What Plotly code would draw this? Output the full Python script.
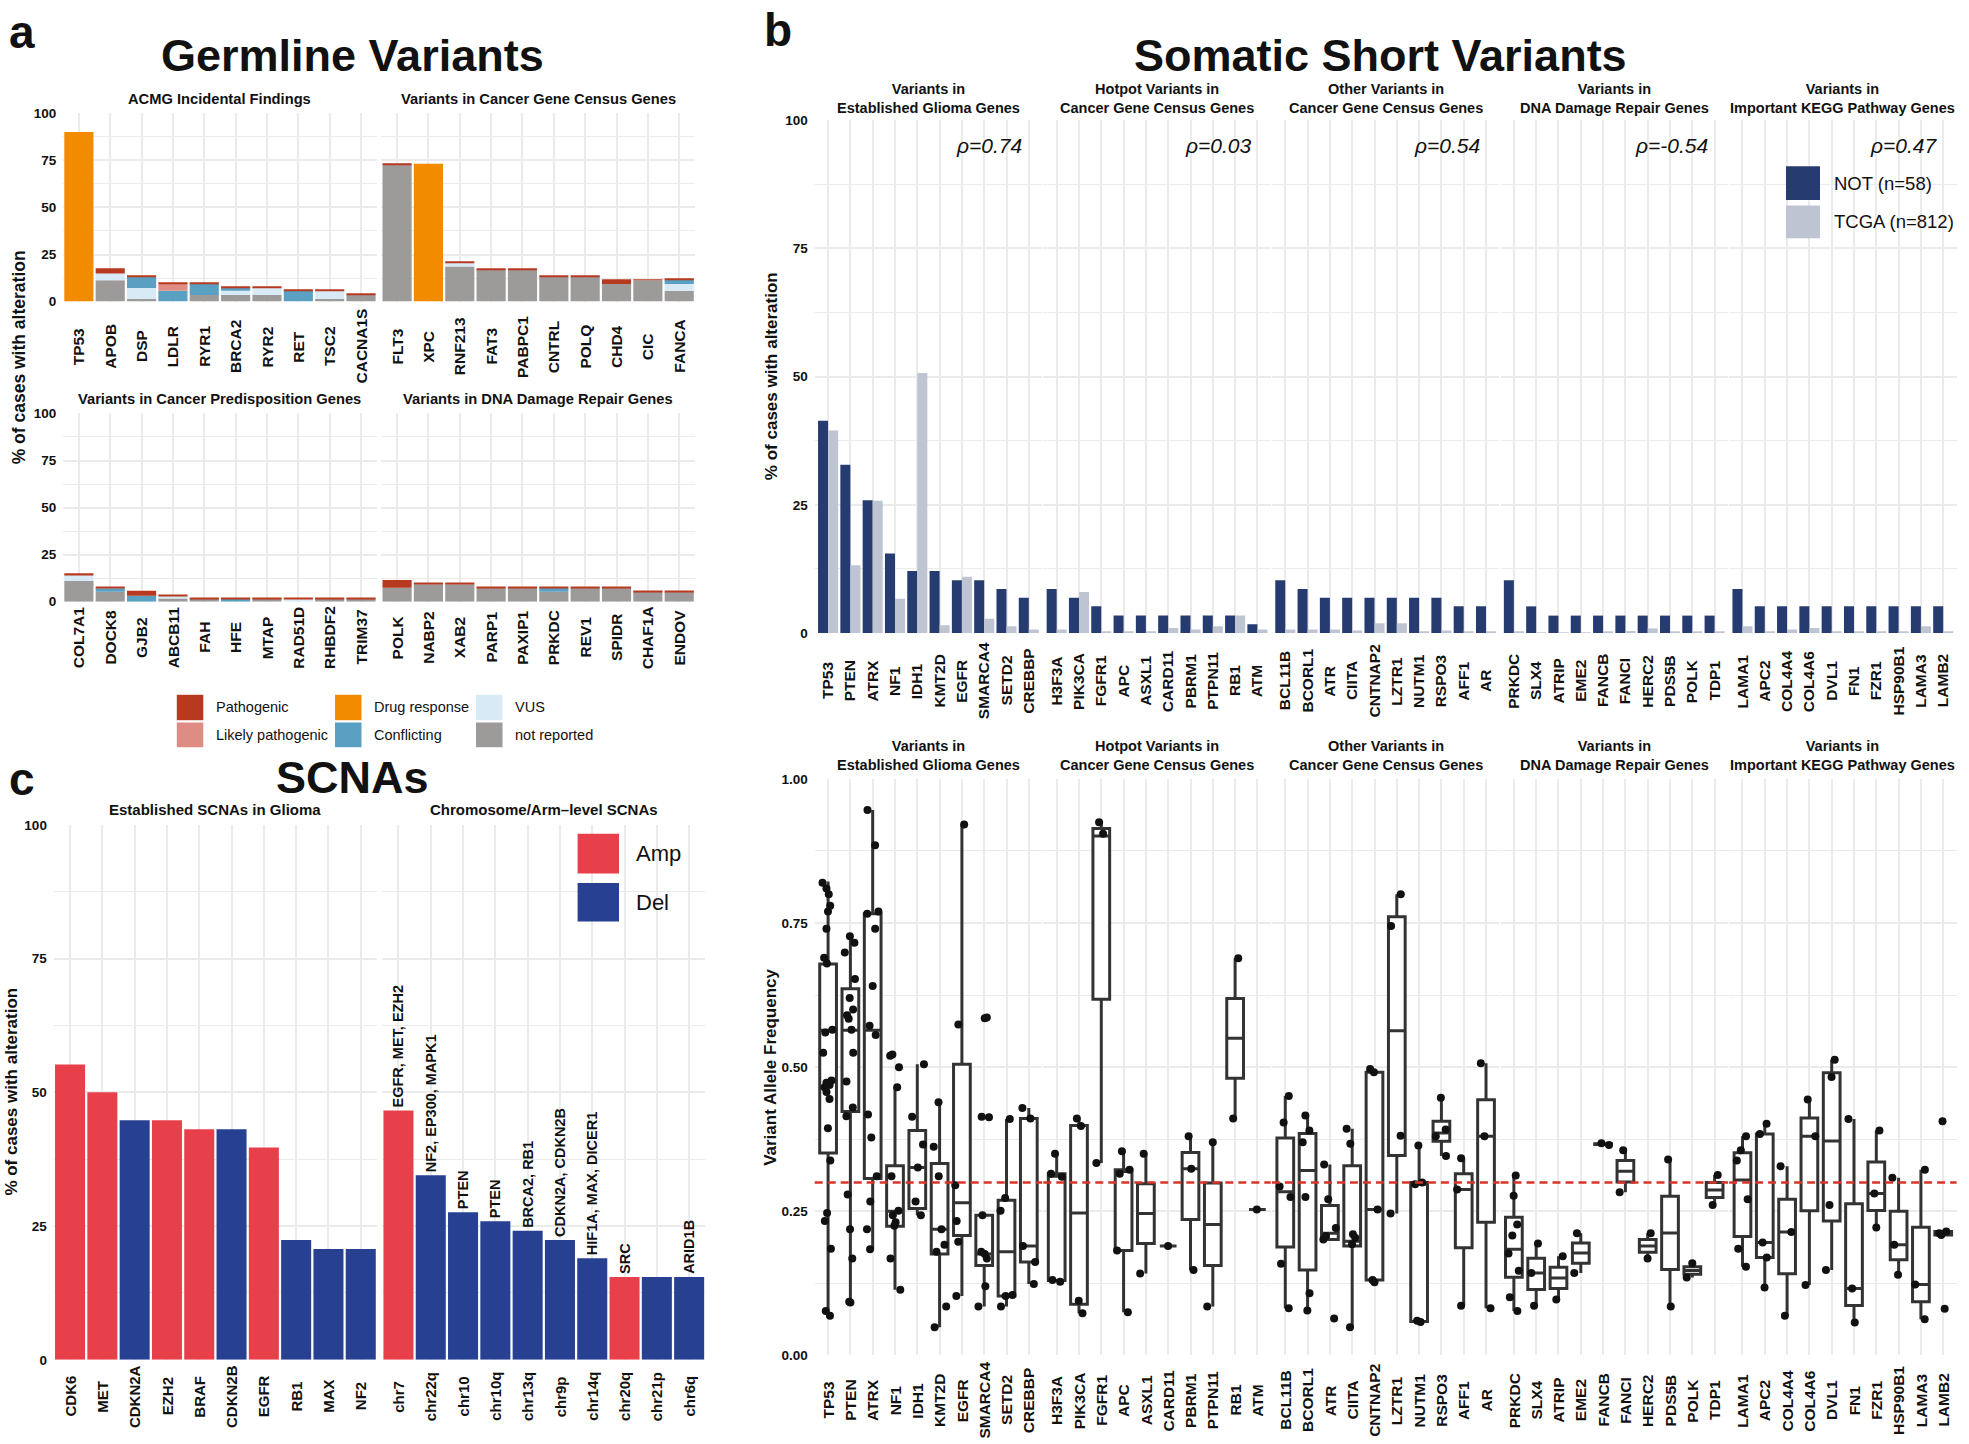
import plotly.graph_objects as go

W, H = 1969, 1444
FONT = "Liberation Sans, Arial, Helvetica, sans-serif"
GRID = "#EBEBEB"
INK = "#111111"

# ---------------- Panel a : germline variants (% of cases) ----------------
a_titles = ["ACMG Incidental Findings", "Variants in Cancer Gene Census Genes",
            "Variants in Cancer Predisposition Genes", "Variants in DNA Damage Repair Genes"]
a_classes = ["not reported", "VUS", "Conflicting", "Drug response", "Likely pathogenic", "Pathogenic"]
a_class_colors = ["#9D9A9A", "#D7EAF6", "#5AA0C3", "#F28B00", "#DF8C85", "#B7391F"]

a1_genes = ["TP53", "APOB", "DSP", "LDLR", "RYR1", "BRCA2", "RYR2", "RET", "TSC2", "CACNA1S"]
a1_not_reported = [0, 11.4, 1.4, 0, 3.5, 3.5, 3.5, 0, 1.4, 3.5]
a1_vus = [0, 3.5, 5.8, 0, 0, 2.3, 4.0, 0, 4.4, 0]
a1_conflicting = [0, 0, 5.8, 5.8, 6.1, 1.7, 0, 5.8, 0, 0]
a1_drug = [90.0, 0, 0, 0, 0, 0, 0, 0, 0, 0]
a1_likely = [0, 0, 0, 3.8, 0, 0, 0, 0, 0, 0]
a1_pathogenic = [0, 2.8, 0.5, 0.4, 0.4, 0.5, 0.5, 0.5, 0.5, 0.5]

a2_genes = ["FLT3", "XPC", "RNF213", "FAT3", "PABPC1", "CNTRL", "POLQ", "CHD4", "CIC", "FANCA"]
a2_not_reported = [72.7, 0, 18.7, 17.2, 17.2, 13.1, 13.1, 9.3, 11.4, 5.8]
a2_vus = [0, 0, 2.0, 0, 0, 0, 0, 0, 0, 3.5]
a2_conflicting = [0, 0, 0, 0, 0, 0, 0, 0, 0, 2.4]
a2_drug = [0, 73.2, 0, 0, 0, 0, 0, 0, 0, 0]
a2_likely = [0, 0, 0, 0, 0, 0, 0, 0, 0, 0]
a2_pathogenic = [0.6, 0, 0.6, 0.5, 0.5, 0.5, 0.5, 2.6, 0.5, 0.5]

a3_genes = ["COL7A1", "DOCK8", "GJB2", "ABCB11", "FAH", "HFE", "MTAP", "RAD51D", "RHBDF2", "TRIM37"]
a3_not_reported = [11.0, 5.3, 0, 1.75, 1.75, 0, 1.75, 0, 1.75, 1.75]
a3_vus = [3.5, 0, 0, 1.45, 0, 0, 0, 1.75, 0, 0]
a3_conflicting = [0, 1.9, 3.2, 0, 0, 1.75, 0, 0, 0, 0]
a3_drug = [0, 0, 0, 0, 0, 0, 0, 0, 0, 0]
a3_likely = [0, 0, 0, 0, 0, 0, 0, 0, 0, 0]
a3_pathogenic = [0.6, 0.5, 2.6, 0.5, 0.5, 0.5, 0.5, 0.5, 0.5, 0.5]

a4_genes = ["POLK", "NABP2", "XAB2", "PARP1", "PAXIP1", "PRKDC", "REV1", "SPIDR", "CHAF1A", "ENDOV"]
a4_not_reported = [7.5, 9.3, 9.3, 7.5, 7.5, 5.3, 7.5, 7.5, 5.4, 5.4]
a4_vus = [0, 0, 0, 0, 0, 0, 0, 0, 0, 0]
a4_conflicting = [0, 0, 0, 0, 0, 2.2, 0, 0, 0, 0]
a4_drug = [0, 0, 0, 0, 0, 0, 0, 0, 0, 0]
a4_likely = [0, 0, 0, 0, 0, 0, 0, 0, 0, 0]
a4_pathogenic = [4.1, 0.5, 0.5, 0.5, 0.5, 0.5, 0.5, 0.5, 0.5, 0.5]

# ---------------- Panel c : SCNAs ----------------
c_titles = ["Established SCNAs in Glioma", "Chromosome/Arm\u2013level SCNAs"]
c_types = ["Amp", "Del"]
c_type_colors = ["#E8404B", "#284091"]
c1_genes = ["CDK6", "MET", "CDKN2A", "EZH2", "BRAF", "CDKN2B", "EGFR", "RB1", "MAX", "NF2"]
c1_pct = [55.2, 50.0, 44.8, 44.8, 43.1, 43.1, 39.7, 22.4, 20.7, 20.7]
c1_type = ["Amp", "Amp", "Del", "Amp", "Amp", "Del", "Amp", "Del", "Del", "Del"]
c2_regions = ["chr7", "chr22q", "chr10", "chr10q", "chr13q", "chr9p", "chr14q", "chr20q", "chr21p", "chr6q"]
c2_pct = [46.6, 34.5, 27.6, 25.9, 24.1, 22.4, 19.0, 15.5, 15.5, 15.5]
c2_type = ["Amp", "Del", "Del", "Del", "Del", "Del", "Del", "Amp", "Del", "Del"]
c2_genes = ["EGFR, MET, EZH2", "NF2, EP300, MAPK1", "PTEN", "PTEN", "BRCA2, RB1",
            "CDKN2A, CDKN2B", "HIF1A, MAX, DICER1", "SRC", "", "ARID1B"]

# ---------------- Panel b : somatic short variants ----------------
b_titles = ["Variants in<br>Established Glioma Genes", "Hotpot Variants in<br>Cancer Gene Census Genes",
            "Other Variants in<br>Cancer Gene Census Genes", "Variants in<br>DNA Damage Repair Genes",
            "Variants in<br>Important KEGG Pathway Genes"]
b_rho = ["\u03c1=0.74", "\u03c1=0.03", "\u03c1=0.54", "\u03c1=-0.54", "\u03c1=0.47"]
b_cohorts = ["NOT (n=58)", "TCGA (n=812)"]
b_cohort_colors = ["#263C70", "#BEC4D2"]

b1_genes = ["TP53", "PTEN", "ATRX", "NF1", "IDH1", "KMT2D", "EGFR", "SMARCA4", "SETD2", "CREBBP"]
b1_not = [41.4, 32.8, 25.9, 15.5, 12.1, 12.1, 10.3, 10.3, 8.6, 6.9]
b1_tcga = [39.5, 13.2, 25.8, 6.7, 50.7, 1.5, 11.0, 2.8, 1.3, 0.7]
b2_genes = ["H3F3A", "PIK3CA", "FGFR1", "APC", "ASXL1", "CARD11", "PBRM1", "PTPN11", "RB1", "ATM"]
b2_not = [8.6, 6.9, 5.2, 3.4, 3.4, 3.4, 3.4, 3.4, 3.4, 1.7]
b2_tcga = [0.7, 8.0, 0.25, 0.25, 0.25, 1.0, 0.7, 1.3, 3.4, 0.7]
b3_genes = ["BCL11B", "BCORL1", "ATR", "CIITA", "CNTNAP2", "LZTR1", "NUTM1", "RSPO3", "AFF1", "AR"]
b3_not = [10.3, 8.6, 6.9, 6.9, 6.9, 6.9, 6.9, 6.9, 5.2, 5.2]
b3_tcga = [0.7, 0.7, 0.7, 0.5, 1.9, 1.9, 0.2, 0.5, 0.2, 0.2]
b4_genes = ["PRKDC", "SLX4", "ATRIP", "EME2", "FANCB", "FANCI", "HERC2", "PDS5B", "POLK", "TDP1"]
b4_not = [10.3, 5.2, 3.4, 3.4, 3.4, 3.4, 3.4, 3.4, 3.4, 3.4]
b4_tcga = [0.15, 0.1, 0.1, 0.1, 0.2, 0.4, 0.9, 0.2, 0.3, 0.2]
b5_genes = ["LAMA1", "APC2", "COL4A4", "COL4A6", "DVL1", "FN1", "FZR1", "HSP90B1", "LAMA3", "LAMB2"]
b5_not = [8.6, 5.2, 5.2, 5.2, 5.2, 5.2, 5.2, 5.2, 5.2, 5.2]
b5_tcga = [1.3, 0.2, 0.7, 1.0, 0.2, 0.3, 0.3, 0.2, 1.3, 0.2]

# Variant allele frequencies (points) and box statistics, per gene
v1_points = [
    [0.82, 0.81, 0.80, 0.78, 0.77, 0.74, 0.69, 0.68, 0.565, 0.56, 0.525, 0.477, 0.473, 0.469,
     0.465, 0.457, 0.445, 0.394, 0.338, 0.247, 0.233, 0.185, 0.077, 0.069],
    [0.727, 0.716, 0.699, 0.653, 0.62, 0.60, 0.59, 0.584, 0.565, 0.525, 0.475, 0.43, 0.415,
     0.279, 0.219, 0.168, 0.093, 0.092],
    [0.946, 0.885, 0.77, 0.766, 0.74, 0.641, 0.572, 0.556, 0.418, 0.378, 0.311, 0.267, 0.219, 0.184],
    [0.522, 0.52, 0.50, 0.465, 0.311, 0.251, 0.243, 0.231, 0.225, 0.168, 0.114],
    [0.505, 0.414, 0.366, 0.326, 0.267, 0.243],
    [0.439, 0.362, 0.311, 0.219, 0.192, 0.18, 0.085, 0.049],
    [0.921, 0.574, 0.295, 0.233, 0.197, 0.103],
    [0.586, 0.585, 0.414, 0.413, 0.243, 0.18, 0.176, 0.168, 0.12, 0.085],
    [0.41, 0.273, 0.251, 0.105, 0.103, 0.085],
    [0.429, 0.411, 0.19, 0.162, 0.124],
]
v1_q1 = [0.351, 0.423, 0.307, 0.224, 0.255, 0.176, 0.208, 0.156, 0.103, 0.162]
v1_med = [0.564, 0.564, 0.564, 0.250, 0.326, 0.219, 0.265, 0.176, 0.180, 0.190]
v1_q3 = [0.679, 0.636, 0.766, 0.329, 0.390, 0.333, 0.505, 0.243, 0.269, 0.411]
v1_lo = [0.069, 0.092, 0.184, 0.114, 0.243, 0.049, 0.103, 0.085, 0.085, 0.124]
v1_hi = [0.822, 0.727, 0.946, 0.465, 0.505, 0.439, 0.921, 0.243, 0.410, 0.429]

v2_points = [
    [0.35, 0.315, 0.31, 0.131, 0.128],
    [0.411, 0.398, 0.095, 0.073],
    [0.925, 0.905, 0.334],
    [0.354, 0.322, 0.315, 0.182, 0.075],
    [0.35, 0.142],
    [0.19],
    [0.38, 0.324, 0.148],
    [0.37, 0.085],
    [0.689, 0.411],
    [0.253],
]
v2_q1 = [0.130, 0.089, 0.618, 0.182, 0.194, 0.190, 0.236, 0.156, 0.481, 0.253]
v2_med = [0.311, 0.247, 0.901, 0.319, 0.246, 0.190, 0.324, 0.227, 0.550, 0.253]
v2_q3 = [0.315, 0.399, 0.914, 0.322, 0.298, 0.190, 0.352, 0.299, 0.619, 0.253]
v2_lo = [0.128, 0.073, 0.334, 0.075, 0.142, 0.190, 0.148, 0.085, 0.411, 0.253]
v2_hi = [0.350, 0.411, 0.925, 0.354, 0.350, 0.190, 0.380, 0.370, 0.689, 0.253]

v3_points = [
    [0.45, 0.404, 0.293, 0.275, 0.159, 0.082],
    [0.416, 0.39, 0.37, 0.275, 0.108, 0.078],
    [0.331, 0.271, 0.221, 0.207, 0.201, 0.064],
    [0.393, 0.367, 0.21, 0.204, 0.193, 0.049],
    [0.497, 0.491, 0.253, 0.131, 0.127],
    [0.80, 0.745, 0.381, 0.246],
    [0.364, 0.30, 0.297, 0.06, 0.058],
    [0.447, 0.392, 0.38, 0.346],
    [0.342, 0.288, 0.086],
    [0.507, 0.38, 0.082],
]
v3_q1 = [0.188, 0.148, 0.201, 0.190, 0.131, 0.347, 0.059, 0.3715, 0.187, 0.231]
v3_med = [0.284, 0.321, 0.212, 0.198, 0.253, 0.563, 0.297, 0.386, 0.288, 0.380]
v3_q3 = [0.377, 0.385, 0.260, 0.329, 0.491, 0.761, 0.300, 0.406, 0.315, 0.4435]
v3_lo = [0.082, 0.078, 0.201, 0.049, 0.127, 0.246, 0.058, 0.346, 0.086, 0.082]
v3_hi = [0.450, 0.416, 0.331, 0.393, 0.497, 0.800, 0.364, 0.447, 0.342, 0.507]

v4_points = [
    [0.312, 0.277, 0.227, 0.208, 0.177, 0.147, 0.101, 0.077],
    [0.194, 0.143, 0.086],
    [0.172, 0.097],
    [0.212, 0.143],
    [0.368, 0.365],
    [0.356, 0.283],
    [0.212, 0.168],
    [0.34, 0.085],
    [0.16, 0.135],
    [0.313, 0.261],
]
v4_q1 = [0.1355, 0.1145, 0.116, 0.160, 0.366, 0.301, 0.179, 0.149, 0.141, 0.274]
v4_med = [0.184, 0.143, 0.1345, 0.1775, 0.3665, 0.3195, 0.190, 0.2125, 0.1475, 0.287]
v4_q3 = [0.2395, 0.1685, 0.153, 0.195, 0.367, 0.338, 0.201, 0.276, 0.154, 0.300]
v4_lo = [0.077, 0.086, 0.097, 0.143, 0.365, 0.283, 0.168, 0.085, 0.135, 0.261]
v4_hi = [0.312, 0.194, 0.172, 0.212, 0.368, 0.356, 0.212, 0.340, 0.160, 0.313]

v5_points = [
    [0.38, 0.356, 0.338, 0.271, 0.185, 0.154],
    [0.402, 0.384, 0.196, 0.17, 0.118],
    [0.328, 0.214, 0.069],
    [0.444, 0.38, 0.122],
    [0.513, 0.483, 0.261, 0.148],
    [0.41, 0.116, 0.057],
    [0.39, 0.281, 0.222],
    [0.308, 0.192, 0.14],
    [0.322, 0.123, 0.063],
    [0.406, 0.215, 0.212, 0.209, 0.081],
]
v5_q1 = [0.2065, 0.170, 0.1415, 0.251, 0.233, 0.0865, 0.2515, 0.166, 0.093, 0.209]
v5_med = [0.3045, 0.196, 0.214, 0.380, 0.372, 0.116, 0.281, 0.192, 0.123, 0.212]
v5_q3 = [0.3515, 0.384, 0.271, 0.412, 0.4905, 0.263, 0.3355, 0.250, 0.2225, 0.215]
v5_lo = [0.154, 0.118, 0.069, 0.122, 0.148, 0.057, 0.222, 0.140, 0.063, 0.209]
v5_hi = [0.380, 0.402, 0.328, 0.444, 0.513, 0.410, 0.390, 0.308, 0.322, 0.215]
vaf_threshold = 0.3

# ---------------- helpers (figure pixel -> paper fraction) ----------------
def px(x):
    return x / W


def py(y):
    return 1 - y / H


fig = go.Figure()
layout_axes = {}
annotations = []
shapes = []


def add_panel(i, x0, x1, y0, y1, cats, xrange, yrange, dtick, minor, show_y, tickformat=None):
    xid = "x" if i == 1 else f"x{i}"
    yid = "y" if i == 1 else f"y{i}"
    layout_axes["xaxis" if i == 1 else f"xaxis{i}"] = dict(
        domain=[px(x0), px(x1)], anchor=yid, type="category", categoryorder="array",
        categoryarray=cats, range=xrange, showgrid=True, gridcolor=GRID, gridwidth=2,
        showticklabels=False, ticks="", showline=False, zeroline=False, fixedrange=True)
    layout_axes["yaxis" if i == 1 else f"yaxis{i}"] = dict(
        domain=[py(y1), py(y0)], anchor=xid, range=yrange, tick0=0, dtick=dtick,
        showgrid=True, gridcolor=GRID, gridwidth=2,
        minor=dict(tick0=0, dtick=minor, showgrid=True, gridcolor=GRID, gridwidth=1),
        showticklabels=show_y, ticks="", ticklabelstandoff=6, tickformat=tickformat,
        tickfont=dict(family=FONT, size=13.5, color=INK, weight="bold"),
        showline=False, zeroline=False, fixedrange=True)
    return xid, yid


def add_xlabels(xid, cats, ycenter, size=15.5):
    for c in cats:
        annotations.append(dict(x=c, xref=xid, y=py(ycenter), yref="paper", text=c, textangle=-90,
                                showarrow=False, xanchor="center", yanchor="middle",
                                font=dict(family=FONT, size=size, color=INK, weight="bold")))


def add_text(x, y, text, size, bold=False, xanchor="center", angle=0, italic=False):
    f = dict(family=FONT, size=size, color=INK)
    if bold:
        f["weight"] = "bold"
    if italic:
        f["style"] = "italic"
    annotations.append(dict(x=px(x), y=py(y), xref="paper", yref="paper", text=text, showarrow=False,
                            xanchor=xanchor, yanchor="middle", textangle=angle, font=f))


# ---------------- panel a ----------------
a_genes = [a1_genes, a2_genes, a3_genes, a4_genes]
a_segments = [
    [a1_not_reported, a1_vus, a1_conflicting, a1_drug, a1_likely, a1_pathogenic],
    [a2_not_reported, a2_vus, a2_conflicting, a2_drug, a2_likely, a2_pathogenic],
    [a3_not_reported, a3_vus, a3_conflicting, a3_drug, a3_likely, a3_pathogenic],
    [a4_not_reported, a4_vus, a4_conflicting, a4_drug, a4_likely, a4_pathogenic],
]
a_xdom = [(63.2, 376.7), (381.4, 694.9), (63.2, 376.7), (381.4, 694.9)]
a_ydom = [(107.3, 297.7), (107.3, 297.7), (410.7, 601.0), (410.7, 601.0)]
a_label_y = [343, 343, 637, 637]
a_sub_y = [93, 93, 396, 396]
for k in range(4):
    xid, yid = add_panel(k + 1, a_xdom[k][0], a_xdom[k][1], a_ydom[k][0], a_ydom[k][1],
                         a_genes[k], [-0.5, 9.5], [0, 100], 25, 12.5, k in (0, 2))
    base = [0.0] * len(a_genes[k])
    for s, vals in enumerate(a_segments[k]):
        fig.add_trace(go.Bar(x=a_genes[k], y=vals, base=base, width=0.93, name=a_classes[s],
                             marker=dict(color=a_class_colors[s], line=dict(width=0)),
                             xaxis=xid, yaxis=yid, showlegend=False, hoverinfo="skip"))
        base = [b + v for b, v in zip(base, vals)]
    add_xlabels(xid, a_genes[k], a_label_y[k])
    add_text((a_xdom[k][0] + a_xdom[k][1]) / 2, a_sub_y[k], a_titles[k], 14.7, bold=True)

# legend a (3 columns x 2 rows)
a_leg_order = [5, 4, 3, 2, 1, 0]  # Pathogenic, Likely, Drug, Conflicting, VUS, not reported
a_leg_cols = [176.8, 335.0, 476.0]
a_leg_rows = [(695.0, 720.7), (723.0, 748.0)]
for n, s in enumerate(a_leg_order):
    cx = a_leg_cols[n // 2]
    ry = a_leg_rows[n % 2]
    shapes.append(dict(type="rect", xref="paper", yref="paper", x0=px(cx), x1=px(cx + 26.5),
                       y0=py(ry[1]), y1=py(ry[0]), fillcolor=a_class_colors[s], line=dict(width=0)))
    add_text(cx + 37, (ry[0] + ry[1]) / 2, a_classes[s], 14.5, xanchor="left")

# ---------------- panel c ----------------
c_xdom = [(53.9, 376.9), (382.3, 705.3)]
c_cats = [c1_genes, c2_regions]
c_vals = [c1_pct, c2_pct]
c_typ = [c1_type, c2_type]
c_lab = [None, c2_genes]
for k in range(2):
    xid, yid = add_panel(5 + k, c_xdom[k][0], c_xdom[k][1], 826.4, 1367.0, c_cats[k],
                         [-0.5, 9.5], [0, 100], 25, 12.5, k == 0)
    for t, tname in enumerate(c_types):
        idx = [j for j, tt in enumerate(c_typ[k]) if tt == tname]
        kw = {}
        if c_lab[k] is not None:
            kw = dict(text=[c_lab[k][j] for j in idx], textposition="outside", textangle=-90,
                      constraintext="none", cliponaxis=False,
                      textfont=dict(family=FONT, size=14.5, color=INK, weight="bold"))
        fig.add_trace(go.Bar(x=[c_cats[k][j] for j in idx], y=[c_vals[k][j] for j in idx],
                             width=0.93, name=tname, marker=dict(color=c_type_colors[t], line=dict(width=0)),
                             xaxis=xid, yaxis=yid, showlegend=False, hoverinfo="skip", **kw))
    add_xlabels(xid, c_cats[k], 1404, size=15)
    add_text((c_xdom[k][0] + c_xdom[k][1]) / 2, 811, c_titles[k], 15, bold=True)

# legend c
c_leg_rows = [(835.5, 875.7), (885.3, 924.2)]
for t, tname in enumerate(c_types):
    ry = c_leg_rows[t]
    shapes.append(dict(type="rect", xref="paper", yref="paper", x0=px(577.6), x1=px(619),
                       y0=py(ry[1]), y1=py(ry[0]), fillcolor=c_type_colors[t], line=dict(width=0)))
    add_text(633.6, (ry[0] + ry[1]) / 2, tname, 22, xanchor="left")

# ---------------- panel b ----------------
b_genes = [b1_genes, b2_genes, b3_genes, b4_genes, b5_genes]
b_not = [b1_not, b2_not, b3_not, b4_not, b5_not]
b_tcga = [b1_tcga, b2_tcga, b3_tcga, b4_tcga, b5_tcga]
v_points = [v1_points, v2_points, v3_points, v4_points, v5_points]
v_q1 = [v1_q1, v2_q1, v3_q1, v4_q1, v5_q1]
v_med = [v1_med, v2_med, v3_med, v4_med, v5_med]
v_q3 = [v1_q3, v2_q3, v3_q3, v4_q3, v5_q3]
v_lo = [v1_lo, v2_lo, v3_lo, v4_lo, v5_lo]
v_hi = [v1_hi, v2_hi, v3_hi, v4_hi, v5_hi]

B_X0, B_STEP, B_W = 814.7, 228.6, 227.5
for k in range(5):
    x0 = B_X0 + k * B_STEP
    x1 = x0 + B_W
    # top: % of cases
    xid, yid = add_panel(7 + k, x0, x1, 114.5, 632.6, b_genes[k], [-0.6, 9.6], [0, 100], 25, 12.5, k == 0)
    fig.add_trace(go.Bar(x=b_genes[k], y=b_not[k], width=0.45, offset=-0.45, name=b_cohorts[0],
                         marker=dict(color=b_cohort_colors[0], line=dict(width=0)),
                         xaxis=xid, yaxis=yid, showlegend=False, hoverinfo="skip"))
    fig.add_trace(go.Bar(x=b_genes[k], y=b_tcga[k], width=0.45, offset=0.0, name=b_cohorts[1],
                         marker=dict(color=b_cohort_colors[1], line=dict(width=0)),
                         xaxis=xid, yaxis=yid, showlegend=False, hoverinfo="skip"))
    add_xlabels(xid, b_genes[k], 681)
    add_text((x0 + x1) / 2, 92, b_titles[k], 14.5, bold=True)
    annotations.append(dict(x=8.8, y=95, xref=xid, yref=yid, text=b_rho[k], showarrow=False,
                            xanchor="right", yanchor="middle",
                            font=dict(family=FONT, size=21, color=INK, style="italic")))
    # bottom: VAF boxplots
    xid, yid = add_panel(12 + k, x0, x1, 780.0, 1362.6, b_genes[k], [-0.6, 9.6], [0, 1], 0.25, 0.125,
                         k == 0, tickformat=".2f")
    fig.add_trace(go.Box(x=b_genes[k], q1=v_q1[k], median=v_med[k], q3=v_q3[k],
                         lowerfence=v_lo[k], upperfence=v_hi[k], width=0.75, whiskerwidth=0,
                         fillcolor="white", line=dict(color="#333333", width=3),
                         xaxis=xid, yaxis=yid, showlegend=False, hoverinfo="skip"))
    pts_x = [g for g, pts in zip(b_genes[k], v_points[k]) for _ in pts]
    pts_y = [v for pts in v_points[k] for v in pts]
    fig.add_trace(go.Box(x=pts_x, y=pts_y, boxpoints="all", jitter=0.8, pointpos=0, width=0.75,
                         whiskerwidth=0, fillcolor="rgba(0,0,0,0)",
                         line=dict(color="rgba(0,0,0,0)", width=0),
                         marker=dict(color=INK, size=8),
                         xaxis=xid, yaxis=yid, showlegend=False, hoverinfo="skip"))
    shapes.append(dict(type="line", xref=f"{xid} domain", x0=0, x1=1, yref=yid,
                       y0=vaf_threshold, y1=vaf_threshold, layer="above",
                       line=dict(color="#D7342A", width=2.5, dash="8px,5px")))
    add_xlabels(xid, b_genes[k], 1408)
    add_text((x0 + x1) / 2, 756, b_titles[k], 14.5, bold=True)

# legend b
b_leg_rows = [(161.0, 195.0), (200.7, 233.6)]
for t in range(2):
    ry = b_leg_rows[t]
    shapes.append(dict(type="rect", xref="paper", yref="paper", x0=px(1786), x1=px(1820),
                       y0=py(ry[1]), y1=py(ry[0]), fillcolor=b_cohort_colors[t], line=dict(width=0)))
    add_text(1832, (ry[0] + ry[1]) / 2, b_cohorts[t], 18.5, xanchor="left")

# ---------------- titles, panel letters, axis titles ----------------
add_text(22, 25, "a", 46, bold=True)
add_text(778, 23, "b", 46, bold=True)
add_text(22, 780, "c", 46, bold=True)
add_text(352, 49, "Germline Variants", 45, bold=True)
add_text(1380, 49, "Somatic Short Variants", 45, bold=True)
add_text(352.5, 779, "SCNAs", 45, bold=True)
add_text(19, 354, "% of cases with alteration", 17.5, bold=True, angle=-90)
add_text(12, 1096, "% of cases with alteration", 17, bold=True, angle=-90)
add_text(771, 373, "% of cases with alteration", 17, bold=True, angle=-90)
add_text(771, 1072, "Variant Allele Frequency", 17, bold=True, angle=-90)

fig.update_layout(
    width=W, height=H, margin=dict(l=0, r=0, t=0, b=0),
    paper_bgcolor="white", plot_bgcolor="white",
    barmode="overlay", boxmode="overlay", showlegend=False,
    font=dict(family=FONT, color=INK),
    annotations=annotations, shapes=shapes,
    **layout_axes,
)

# place the figure at the page origin (no default body margin / scrollbars), no toolbar
fig.write_html("out.html", config={"displayModeBar": False},
               post_script="document.body.style.margin='0';"
                           "document.documentElement.style.overflow='hidden';")
